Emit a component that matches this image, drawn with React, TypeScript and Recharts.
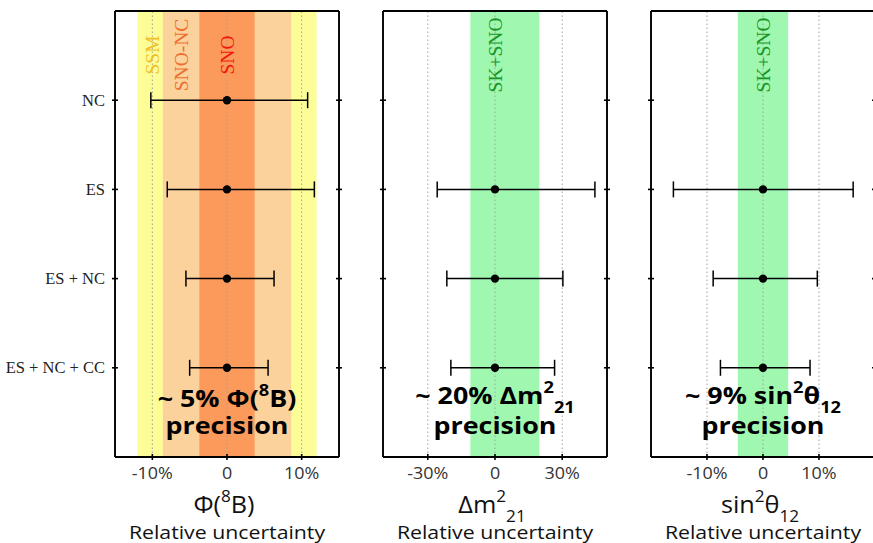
import React from 'react';
import {
  ScatterChart,
  Scatter,
  XAxis,
  YAxis,
  ErrorBar,
  ReferenceArea,
  ReferenceLine,
} from 'recharts';

// Measurement combinations, top to bottom
const rowLabels = ['NC', 'ES', 'ES + NC', 'ES + NC + CC'];

// Φ(8B) relative uncertainty (%) — lower / upper error
const fluxRows = ['NC', 'ES', 'ES + NC', 'ES + NC + CC'];
const fluxErrLow = [10.2, 8.0, 5.5, 5.0];
const fluxErrHigh = [10.8, 11.7, 6.3, 5.5];

// Δm²21 relative uncertainty (%)
const dmRows = ['ES', 'ES + NC', 'ES + NC + CC'];
const dmErrLow = [25.8, 21.5, 19.7];
const dmErrHigh = [44.6, 30.3, 26.6];

// sin²θ12 relative uncertainty (%)
const sinRows = ['ES', 'ES + NC', 'ES + NC + CC'];
const sinErrLow = [16.0, 8.9, 7.6];
const sinErrHigh = [16.1, 9.7, 8.4];

// Existing constraints drawn as shaded bands (%)
const fluxBandNames = ['SSM', 'SNO-NC', 'SNO'];
const fluxBandLow = [-12, -8.6, -3.7];
const fluxBandHigh = [12, 8.6, 3.7];
const dmBandNames = ['SK+SNO'];
const dmBandLow = [-11];
const dmBandHigh = [19.8];
const sinBandNames = ['SK+SNO'];
const sinBandLow = [-4.5];
const sinBandHigh = [4.5];

// Axis ticks and ranges (%)
const fluxTicks = [-10, 0, 10];
const dmTicks = [-30, 0, 30];
const sinTicks = [-10, 0, 10];
const fluxDomain = [-15, 15];
const dmDomain = [-50, 50];
const sinDomain = [-20, 20];

type Part = { t: string; s?: 'sup' | 'sub' };

const CHART_H = 543;
const PLOT_TOP = 11;
const PLOT_BOTTOM = 457;
const PLOT_W = 224;
const RIGHT_AXIS_W = 20;
const Y_GAP = 10;
const X_GAP = 11;
const SANS = '"Open Sans", sans-serif';
const SERIF = '"Liberation Serif", "Times New Roman", serif';

const rowY = (row: string) => rowLabels.length - rowLabels.indexOf(row);
const pct = (v: number) => (v === 0 ? '0' : `${v}%`);

function MathText(props: {
  x: number;
  y: number;
  parts: Part[];
  size: number;
  weight?: number;
  fill?: string;
  widen?: number;
}) {
  const { x, y, parts, size, weight = 400, fill = '#111', widen = 1.12 } = props;
  let shift = 0;
  return (
    <text
      transform={`translate(${x} ${y}) scale(${widen} 1)`}
      x={0}
      y={0}
      textAnchor="middle"
      fontFamily={SANS}
      fontWeight={weight}
      fill={fill}
      fontSize={size}
    >
      {parts.map((p, i) => {
        const target = p.s === 'sup' ? -0.42 * size : p.s === 'sub' ? 0.38 * size : 0;
        const d = target - shift;
        shift = target;
        return (
          <tspan key={i} dy={d} fontSize={p.s ? size * 0.68 : size}>
            {p.t}
          </tspan>
        );
      })}
    </text>
  );
}

function LeftTick(props: any) {
  const { x, y, payload, showLabel } = props;
  const ax = x + Y_GAP;
  const label = rowLabels[rowLabels.length - payload.value];
  return (
    <g>
      <line x1={ax - 3} x2={ax + 3} y1={y} y2={y} stroke="#000" strokeWidth={1.6} />
      {showLabel && (
        <text x={x} y={y} dy="0.34em" textAnchor="end" fontFamily={SERIF} fontSize={16.5} fill="#222">
          {label}
        </text>
      )}
    </g>
  );
}

function RightTick(props: any) {
  const { x, y } = props;
  const ax = x - Y_GAP;
  return <line x1={ax - 3} x2={ax + 3} y1={y} y2={y} stroke="#000" strokeWidth={1.6} />;
}

const TICK_FONT = 16;

function BottomTick(props: any) {
  const { x, y, payload } = props;
  const ay = y - X_GAP;
  return (
    <g>
      <line x1={x} x2={x} y1={ay - 3} y2={ay + 3} stroke="#000" strokeWidth={1.6} />
      <MathText x={x} y={y + 0.71 * TICK_FONT} parts={[{ t: pct(payload.value) }]} size={TICK_FONT} fill="#333" />
    </g>
  );
}

function BandLabel(props: any) {
  const { viewBox, text, color } = props;
  const cx = viewBox.x;
  const cy = viewBox.y + 44;
  return (
    <text
      x={cx}
      y={cy}
      transform={`rotate(-90 ${cx} ${cy})`}
      textAnchor="middle"
      dominantBaseline="central"
      fontFamily={SERIF}
      fontSize={19.5}
      fill={color}
    >
      {text}
    </text>
  );
}

function Annotation(props: any) {
  const { viewBox, line1, base1 } = props;
  const cx = viewBox.x;
  return (
    <g>
      <MathText x={cx} y={viewBox.y + base1} parts={line1} size={24} weight={700} fill="#000" />
      <MathText x={cx} y={viewBox.y + 423} parts={[{ t: 'precision' }]} size={24} weight={700} fill="#000" />
    </g>
  );
}

function AxisTitle(props: any) {
  const { viewBox, parts } = props;
  const cx = viewBox.x + viewBox.width / 2;
  return (
    <g>
      <MathText x={cx - 3} y={viewBox.y + 55.5} parts={parts} size={24.5} widen={1.03} fill="#111" />
      <MathText x={cx} y={viewBox.y + 81.5} parts={[{ t: 'Relative uncertainty' }]} size={19} fill="#111" />
    </g>
  );
}

const dot = (p: any) => <circle cx={p.cx} cy={p.cy} r={4.2} fill="#000" />;

type PanelProps = {
  plotLeft: number;
  leftW: number;
  showRowLabels: boolean;
  rows: string[];
  errLow: number[];
  errHigh: number[];
  domain: number[];
  ticks: number[];
  bandNames: string[];
  bandLow: number[];
  bandHigh: number[];
  bandFills: string[];
  bandTextColors: string[];
  bandTextAt: number[];
  note: Part[];
  noteBase: number;
  title: Part[];
};

function Panel(p: PanelProps) {
  const data = p.rows.map((r, i) => ({ x: 0, y: rowY(r), err: [p.errLow[i], p.errHigh[i]] }));
  const width = p.leftW + PLOT_W + RIGHT_AXIS_W;
  const frame = { stroke: '#000', strokeWidth: 1.9 };
  return (
    <div style={{ position: 'absolute', left: p.plotLeft - p.leftW, top: 0 }}>
      <ScatterChart width={width} height={CHART_H} margin={{ top: PLOT_TOP, right: 0, bottom: 0, left: 0 }}>
        <XAxis
          type="number"
          dataKey="x"
          domain={p.domain}
          ticks={p.ticks}
          allowDataOverflow
          height={CHART_H - PLOT_BOTTOM}
          axisLine={frame}
          tickLine={false}
          tickSize={0}
          tickMargin={X_GAP}
          tick={(tp: any) => <BottomTick {...tp} />}
          label={<AxisTitle parts={p.title} />}
        />
        <YAxis
          type="number"
          dataKey="y"
          domain={[0, 5]}
          ticks={[1, 2, 3, 4]}
          allowDataOverflow
          width={p.leftW}
          axisLine={frame}
          tickLine={false}
          tickSize={0}
          tickMargin={Y_GAP}
          tick={(tp: any) => <LeftTick {...tp} showLabel={p.showRowLabels} />}
        />
        <YAxis
          yAxisId="right"
          orientation="right"
          type="number"
          domain={[0, 5]}
          ticks={[1, 2, 3, 4]}
          allowDataOverflow
          width={RIGHT_AXIS_W}
          axisLine={frame}
          tickLine={false}
          tickSize={0}
          tickMargin={Y_GAP}
          tick={(tp: any) => <RightTick {...tp} />}
        />
        {p.bandNames.map((n, i) => (
          <ReferenceArea
            key={`band-${n}`}
            x1={p.bandLow[i]}
            x2={p.bandHigh[i]}
            fill={p.bandFills[i]}
            fillOpacity={1}
            stroke="none"
          />
        ))}
        {p.ticks.map((t) => (
          <ReferenceLine key={`grid-${t}`} x={t} stroke="#a0a0a0" strokeWidth={1} strokeDasharray="1.5 2.5" />
        ))}
        <ReferenceLine y={5} stroke="#000" strokeWidth={1.9} />
        {p.bandNames.map((n, i) => (
          <ReferenceLine
            key={`label-${n}`}
            x={p.bandTextAt[i]}
            stroke="none"
            label={<BandLabel text={n} color={p.bandTextColors[i]} />}
          />
        ))}
        <Scatter data={data} isAnimationActive={false} shape={dot}>
          <ErrorBar dataKey="err" direction="x" width={8} stroke="#000" strokeWidth={1.5} isAnimationActive={false} />
        </Scatter>
        <ReferenceLine x={0} stroke="none" label={<Annotation line1={p.note} base1={p.noteBase} />} />
      </ScatterChart>
    </div>
  );
}

export default function App() {
  return (
    <div
      style={{
        position: 'fixed',
        left: 0,
        top: 0,
        width: 873,
        height: 543,
        overflow: 'hidden',
        background: '#fff',
      }}
    >
      <Panel
        plotLeft={115}
        leftW={115}
        showRowLabels
        rows={fluxRows}
        errLow={fluxErrLow}
        errHigh={fluxErrHigh}
        domain={fluxDomain}
        ticks={fluxTicks}
        bandNames={fluxBandNames}
        bandLow={fluxBandLow}
        bandHigh={fluxBandHigh}
        bandFills={['#fdfd98', '#fcd29c', '#fc9a5c']}
        bandTextColors={['#edc02a', '#ec6f30', '#f01a0c']}
        bandTextAt={[-10, -6.1, 0]}
        note={[{ t: '~ 5% Φ(' }, { t: '8', s: 'sup' }, { t: 'B)' }]}
        noteBase={395.5}
        title={[{ t: 'Φ(' }, { t: '8', s: 'sup' }, { t: 'B)' }]}
      />
      <Panel
        plotLeft={382.5}
        leftW={20}
        showRowLabels={false}
        rows={dmRows}
        errLow={dmErrLow}
        errHigh={dmErrHigh}
        domain={dmDomain}
        ticks={dmTicks}
        bandNames={dmBandNames}
        bandLow={dmBandLow}
        bandHigh={dmBandHigh}
        bandFills={['#a0f8b0']}
        bandTextColors={['#1a9426']}
        bandTextAt={[0]}
        note={[{ t: '~ 20% Δm' }, { t: '2', s: 'sup' }, { t: '21', s: 'sub' }]}
        noteBase={392.5}
        title={[{ t: 'Δm' }, { t: '2', s: 'sup' }, { t: '21', s: 'sub' }]}
      />
      <Panel
        plotLeft={650.7}
        leftW={20}
        showRowLabels={false}
        rows={sinRows}
        errLow={sinErrLow}
        errHigh={sinErrHigh}
        domain={sinDomain}
        ticks={sinTicks}
        bandNames={sinBandNames}
        bandLow={sinBandLow}
        bandHigh={sinBandHigh}
        bandFills={['#a0f8b0']}
        bandTextColors={['#1a9426']}
        bandTextAt={[0]}
        note={[{ t: '~ 9% sin' }, { t: '2', s: 'sup' }, { t: 'θ' }, { t: '12', s: 'sub' }]}
        noteBase={392.5}
        title={[{ t: 'sin' }, { t: '2', s: 'sup' }, { t: 'θ' }, { t: '12', s: 'sub' }]}
      />
    </div>
  );
}
